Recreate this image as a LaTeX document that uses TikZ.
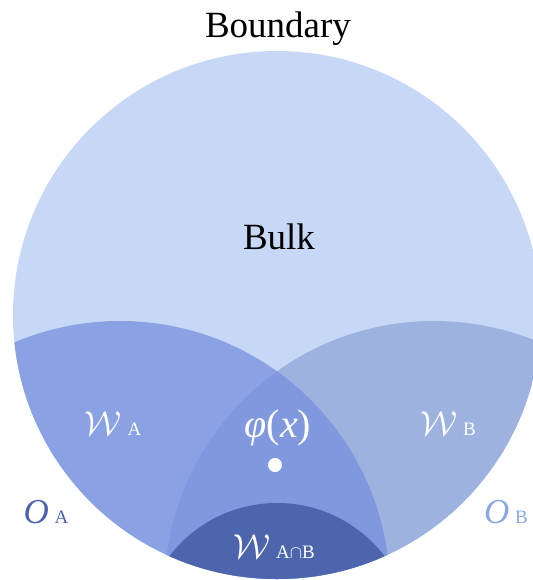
\documentclass[tikz,border=0pt]{standalone}
\usepackage{fontspec}
\setmainfont{Liberation Serif}
\usetikzlibrary{positioning}

\definecolor{bulkblue}{HTML}{C6D8F5}
\definecolor{wedgeA}{HTML}{8AA2E4}
\definecolor{wedgeB}{HTML}{9EB2E0}
\definecolor{wedgeAB}{HTML}{7F98DE}
\definecolor{capblue}{HTML}{4D65AD}
\definecolor{labelA}{HTML}{4A62AD}
\definecolor{labelB}{HTML}{8CA7E6}

\newcommand{\subsz}{\fontsize{9.5}{10}\selectfont}

\begin{document}
\begin{tikzpicture}[x=0.5pt, y=-0.5pt,
  title/.style={font=\fontsize{18.5}{20}\selectfont, anchor=base, inner sep=0pt},
  wlabel/.style={text=white, font=\fontsize{18}{20}\selectfont, anchor=base, inner sep=0pt},
  olabel/.style={font=\fontsize{17.5}{20}\selectfont, anchor=base, inner sep=0pt}]
\useasboundingbox (0,0) rectangle (533,580);
\clip (0,0) rectangle (533,580);
% Bulk: the big disk
\fill[bulkblue] (277,315) circle (264);
% Wedges inside the bulk
\begin{scope}
\clip (277,315) circle (264);
\fill[wedgeA] (120,591) circle (270);
\fill[wedgeB] (434,591) circle (270);
\begin{scope}
\clip (120,591) circle (270);
\fill[wedgeAB] (434,591) circle (270);
\end{scope}
\fill[capblue] (277,638.5) circle (135.5);
\end{scope}
% Texts
\node[title] (boundary) at (278,37) {Boundary};
\node[title] (bulk) at (279,249) {Bulk};
\node[wlabel] (wA) at (113,435) {$\mathcal{W}$\,{\subsz A}};
\node[wlabel] (wB) at (448,435) {$\mathcal{W}$\,{\subsz B}};
\node[wlabel] (wAB) at (274,558) {$\mathcal{W}$\,{\subsz A$\cap$B}};
\node[wlabel, font=\fontsize{20}{22}\selectfont] (phi) at (278,437) {\textit{φ}(\textit{x})};
\node[circle, fill=white, inner sep=0pt, minimum size=7pt] (pt) at (275,465) {};
\node[olabel, text=labelA] (oA) at (46,523) {\textit{O}\,{\subsz A}};
\node[olabel, text=labelB] (oB) at (506,523) {\textit{O}\,{\subsz B}};
\end{tikzpicture}
\end{document}
